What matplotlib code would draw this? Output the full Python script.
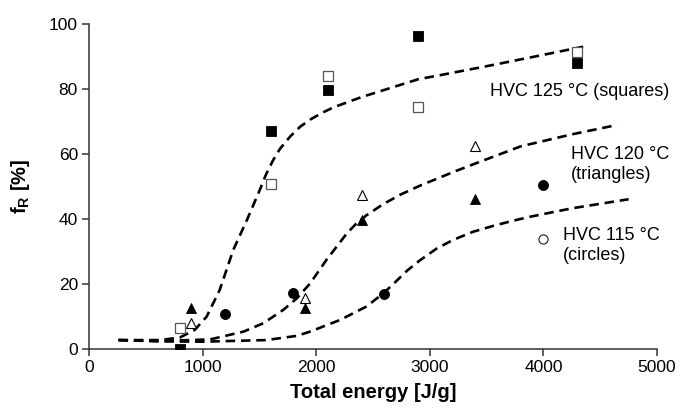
"""
Recovery fraction f_R vs. total energy for three HVC temperatures
"""

import matplotlib
matplotlib.use('Agg')
from matplotlib import pyplot as plt

plt.rcParams['font.family'] = ['Liberation Sans', 'DejaVu Sans']

# Measured points (energy in J/g, f_R in %)
sq_polni_x = [800, 1600, 2100, 2900, 4300]
sq_polni_y = [0, 67, 79.7, 96.4, 88]
sq_prazni_x = [800, 1600, 2100, 2900, 4300]
sq_prazni_y = [6.4, 50.8, 84, 74.5, 91.5]

tri_polni_x = [900, 1900, 2400, 3400]
tri_polni_y = [12.6, 12.6, 39.6, 46]
tri_prazni_x = [900, 1900, 2400, 3400]
tri_prazni_y = [8, 15.5, 47.3, 62.5]

kr_polni_x = [1200, 1800, 2600, 4000]
kr_polni_y = [10.5, 17, 16.8, 50.4]
kr_prazni_x = [4000]
kr_prazni_y = [33.6]

# Fitted curves
k125_x = [260, 450, 625, 800, 930, 1035, 1150, 1270, 1390, 1505, 1560, 1620,
          1680, 1770, 1860, 1945, 2050, 2150, 2400, 2600, 2900, 3100, 3500,
          3900, 4350]
k125_y = [2.6, 2.6, 2.6, 3.4, 5.7, 9.8, 18, 30.4, 39.6, 49, 53.8, 58,
          61.5, 65.3, 68.4, 70.5, 72.6, 74.3, 77.5, 79.7, 83, 84.3, 87,
          89.8, 93]
k120_x = [260, 625, 1065, 1360, 1535, 1710, 1830, 1945, 2090, 2270, 2350,
          2440, 2590, 2740, 2914, 3236, 3400, 3800, 4250, 4650]
k120_y = [2.6, 2.3, 2.8, 5.2, 7.8, 11.9, 15.5, 20, 27.3, 35.5, 38.4,
          41, 44.5, 47.4, 50.2, 54.8, 57, 62.3, 66, 68.9]
k115_x = [260, 625, 1000, 1560, 1830, 1945, 2210, 2440, 2591, 2700, 2800,
          2914, 3060, 3207, 3383, 3559, 3735, 3882, 4250, 4750]
k115_y = [2.6, 2.2, 2.1, 2.6, 3.9, 5.2, 8.8, 12.9, 17, 20.6, 24,
          27.2, 30.8, 33.5, 36, 37.8, 39.4, 40.6, 43.2, 46]

fig = plt.figure(figsize=(6.8, 4.12), dpi=100)
ax = fig.add_axes([0.1309, 0.1541, 0.8353, 0.7876])

crta = dict(color='black', lw=1.9, linestyle=(0, (3.6, 2.2)), zorder=2)
ax.plot(k125_x, k125_y, **crta)
ax.plot(k120_x, k120_y, **crta)
ax.plot(k115_x, k115_y, **crta)

ms = 7.2
ax.plot(sq_polni_x, sq_polni_y, 's', ms=ms, color='black', mec='black', mew=0.6, zorder=3)
ax.plot(sq_prazni_x, sq_prazni_y, 's', ms=ms, mfc='white', mec='#555555', mew=0.9, zorder=3)
ax.plot(tri_polni_x, tri_polni_y, '^', ms=ms + 0.5, color='black', mew=0.6, zorder=3)
ax.plot(tri_prazni_x, tri_prazni_y, '^', ms=ms + 0.5, mfc='white', mec='black', mew=0.8, zorder=3)
ax.plot(kr_polni_x, kr_polni_y, 'o', ms=ms, color='black', mew=0.6, zorder=3)
ax.plot(kr_prazni_x, kr_prazni_y, 'o', ms=ms - 0.6, mfc='white', mec='black', mew=0.7, zorder=3)

# Oznake krivulj
ax.text(3530, 79.1, 'HVC 125 °C (squares)', fontsize=13, ha='left', va='center')
ax.text(4240, 56.8, 'HVC 120 °C\n(triangles)', fontsize=13, ha='left', va='center',
        linespacing=1.25)
ax.text(4170, 31.7, 'HVC 115 °C\n(circles)', fontsize=13, ha='left', va='center',
        linespacing=1.25)

ax.set_xlim(0, 5000)
ax.set_ylim(0, 100)
ax.set_xticks([0, 1000, 2000, 3000, 4000, 5000])
ax.set_yticks([0, 20, 40, 60, 80, 100])

for s in ['top', 'right']:
    ax.spines[s].set_visible(False)
for s in ['left', 'bottom']:
    ax.spines[s].set_color('#333333')
    ax.spines[s].set_linewidth(1.1)
ax.tick_params(direction='out', length=5, width=1.1, color='#333333',
               labelsize=12.5, pad=3)

ax.set_xlabel('Total energy [J/g]', fontsize=14.5, fontweight='bold', labelpad=6)
ax.set_ylabel(r'f$_\mathregular{R}$ [%]', fontsize=14.5, fontweight='bold', labelpad=12)

plt.savefig('out.png', dpi=100)
